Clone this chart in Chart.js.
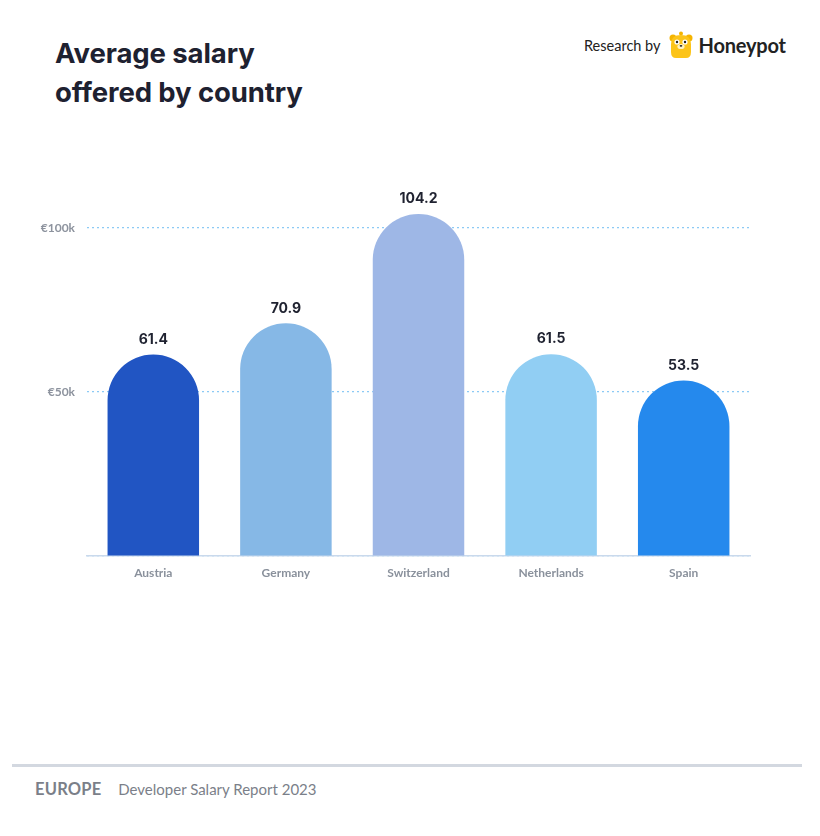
<!DOCTYPE html>
<html>
<head>
<meta charset="utf-8">
<script src="https://cdn.jsdelivr.net/npm/chart.js@4"></script>
<style>
  html, body { margin: 0; padding: 0; background: #fff; }
  body { width: 820px; height: 836px; position: relative; overflow: hidden; font-family: Lato, "Open Sans", sans-serif; }
  .title { position: absolute; left: 55px; top: 34px; font-family: Inter, Lato, sans-serif; font-size: 27.5px; font-weight: 700; line-height: 39px; color: #1e2130; letter-spacing: -0.1px; }
  .brand { position: absolute; left: 584px; top: 30px; height: 30px; display: flex; align-items: center; color: #222; }
  .brand .by { font-size: 14.5px; margin-right: 7px; }
  .brand .name { font-size: 20px; font-weight: 700; margin-left: 5px; letter-spacing: -0.2px; }
  .chart-box { position: absolute; left: 0; top: 150px; width: 820px; height: 446px; }
  .rule { position: absolute; left: 12px; top: 764px; width: 790px; height: 3px; background: #d3d8e0; }
  .foot { position: absolute; left: 35px; top: 779px; font-size: 15px; color: #7b7f89; }
  .foot b { font-size: 16.5px; margin-right: 13px; letter-spacing: 0.2px; }
</style>
</head>
<body>
<div class="title">Average salary<br>offered by country</div>
<div class="brand">
  <span class="by">Research by</span>
  <svg width="26" height="28" viewBox="0 0 26 28">
    <circle cx="13" cy="2.5" r="2" fill="#f5b400"/>
    <circle cx="5" cy="7" r="3.5" fill="#f5b400"/>
    <circle cx="21" cy="7" r="3.5" fill="#f5b400"/>
    <path d="M3 13 Q3 4 13 4 Q23 4 23 13 L23 21 Q23 27 18 27 L8 27 Q3 27 3 21 Z" fill="#fcc419"/>
    <circle cx="9" cy="11" r="2.6" fill="#fff"/><circle cx="17" cy="11" r="2.6" fill="#fff"/>
    <circle cx="9" cy="11" r="1.2" fill="#222"/><circle cx="17" cy="11" r="1.2" fill="#222"/>
    <ellipse cx="13" cy="15.5" rx="3.6" ry="2.6" fill="#fff2c0"/>
    <ellipse cx="13" cy="14.8" rx="1.3" ry="0.9" fill="#222"/>
  </svg>
  <span class="name">Honeypot</span>
</div>
<div class="chart-box"><canvas id="salaryChart" width="820" height="446"></canvas></div>
<div class="rule"></div>
<div class="foot"><b>EUROPE</b> Developer Salary Report 2023</div>

<script>
const countries = ["Austria", "Germany", "Switzerland", "Netherlands", "Spain"];
const salaries = [61.4, 70.9, 104.2, 61.5, 53.5];
const barColors = ["#2155C3", "#86B8E6", "#9EB7E6", "#91CEF3", "#2589ED"];
const yTicks = [0, 50, 100];
const yTickLabels = { 50: "€50k", 100: "€100k" };

// draws the number above each bar
const valueLabels = {
  id: "valueLabels",
  afterDatasetsDraw(chart) {
    const ctx = chart.ctx;
    const meta = chart.getDatasetMeta(0);
    ctx.save();
    ctx.font = "bold 14px Inter, Lato, sans-serif";
    ctx.fillStyle = "#1f2230";
    ctx.textAlign = "center";
    ctx.textBaseline = "bottom";
    meta.data.forEach((bar, i) => {
      ctx.fillText(salaries[i].toFixed(1), bar.x, bar.y - 8);
    });
    ctx.restore();
  },
};

new Chart(document.getElementById("salaryChart"), {
  type: "bar",
  data: {
    labels: countries,
    datasets: [
      {
        data: salaries,
        backgroundColor: barColors,
        borderRadius: { topLeft: 46, topRight: 46, bottomLeft: 0, bottomRight: 0 },
        borderSkipped: "bottom",
        barPercentage: 0.69,
        categoryPercentage: 1,
      },
    ],
  },
  options: {
    responsive: false,
    animation: false,
    layout: { padding: { top: 45, right: 70, left: 0, bottom: 0 } },
    plugins: { legend: { display: false }, tooltip: { enabled: false } },
    scales: {
      x: {
        afterFit: (s) => { s.height = 40; },
        grid: { display: false, drawTicks: false },
        border: { display: true, color: "#c9d9ec", width: 1.5 },
        ticks: { color: "#8a919c", font: { family: "Lato", weight: "bold", size: 12 }, padding: 10 },
      },
      y: {
        min: 0,
        max: 110,
        afterFit: (s) => { s.width = 87; },
        afterBuildTicks: (s) => { s.ticks = yTicks.map((v) => ({ value: v })); },
        grid: {
          drawTicks: false,
          color: "#8ccaf5",
          lineWidth: 1.2,
        },
        border: { display: false, dash: [2, 3] },
        ticks: {
          color: "#8d939e",
          font: { family: "Lato", weight: "bold", size: 12 },
          padding: 12,
          callback: (v) => yTickLabels[v] || "",
        },
      },
    },
  },
  plugins: [valueLabels],
});
</script>
</body>
</html>
